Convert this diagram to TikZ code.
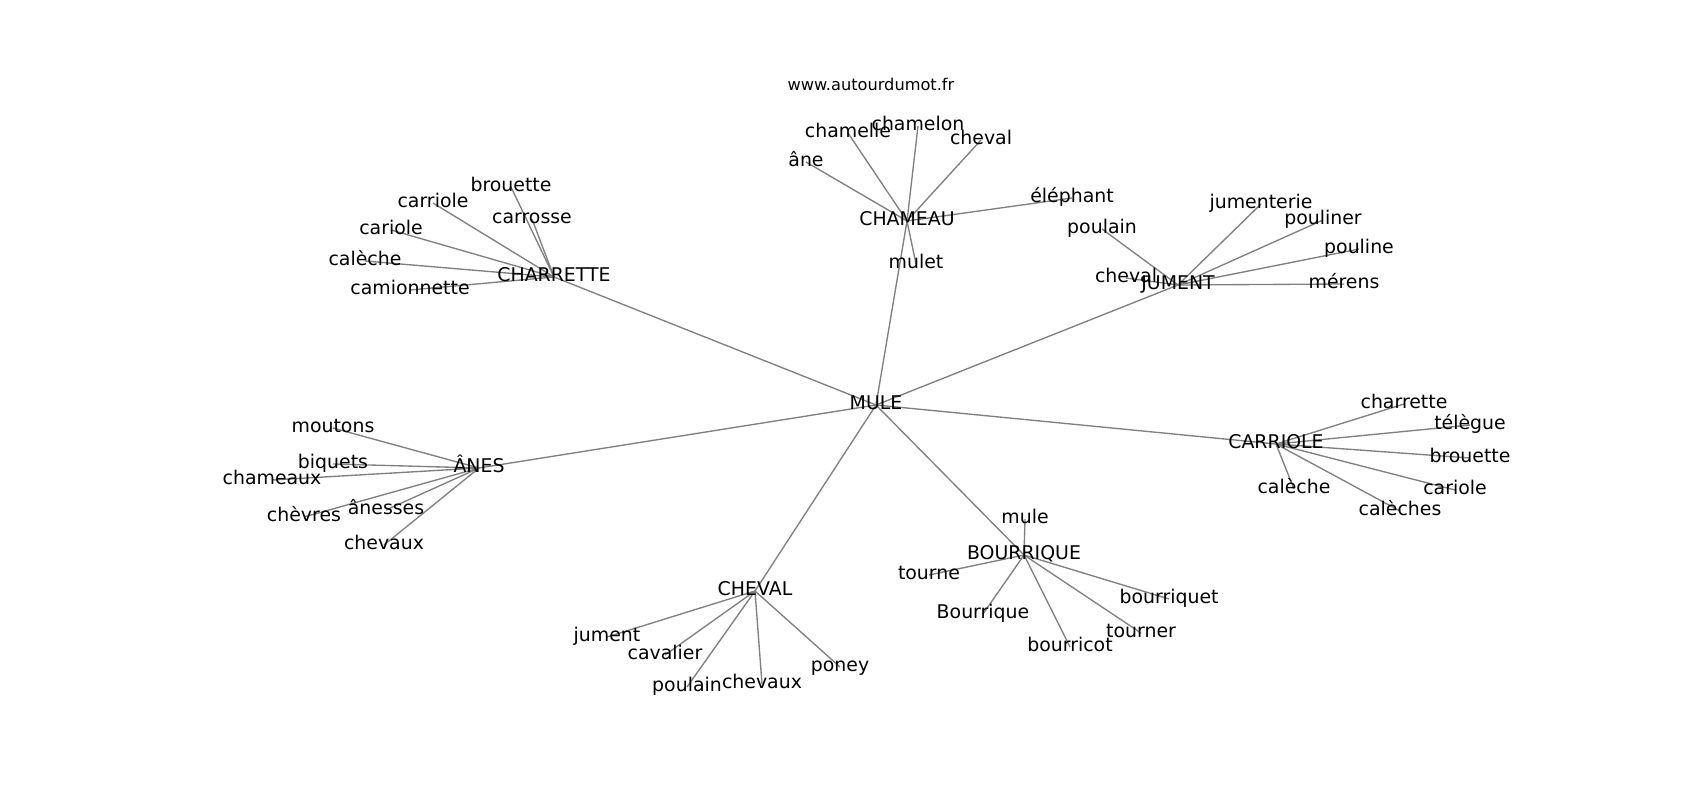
\documentclass[tikz,border=0pt]{standalone}
\usepackage{fontspec}
\setmainfont{DejaVu Sans}
\usetikzlibrary{backgrounds}
\begin{document}
\begin{tikzpicture}[x=1pt,y=-1pt,
  lbl/.style={inner sep=0pt,outer sep=0pt,text height=14.4pt,text depth=4.46pt,
    font=\fontsize{18.9}{22}\selectfont,text=black},
  ttl/.style={inner sep=0pt,font=\fontsize{16.2}{19}\selectfont,text=black},
  edge/.style={draw=gray,line width=1.35pt}]
\useasboundingbox (0,0) rectangle (1700,800);
\begin{scope}[shift={(0,2)}]
\node[ttl] (url) at (871,82) {www.autourdumot.fr};
% hubs
\node[lbl] (mule) at (876,403) {MULE};
\node[lbl] (charrette) at (554,275) {CHARRETTE};
\node[lbl] (chameau) at (907,219) {CHAMEAU};
\node[lbl] (jument) at (1178,283) {JUMENT};
\node[lbl] (carriole) at (1276,442) {CARRIOLE};
\node[lbl] (anes) at (479,466) {ÂNES};
\node[lbl] (cheval) at (755,589) {CHEVAL};
\node[lbl] (bourrique) at (1024,553) {BOURRIQUE};
% CHARRETTE leaves
\node[lbl] (ch-brouette) at (511,185) {brouette};
\node[lbl] (ch-carrosse) at (532,217) {carrosse};
\node[lbl] (ch-carriole) at (433,201) {carriole};
\node[lbl] (ch-cariole) at (391,228) {cariole};
\node[lbl] (ch-caleche) at (365,259) {calèche};
\node[lbl] (ch-camion) at (410,288) {camionnette};
% CHAMEAU leaves
\node[lbl] (cm-ane) at (806,160) {âne};
\node[lbl] (cm-chamelle) at (848,131) {chamelle};
\node[lbl] (cm-chamelon) at (918,124) {chamelon};
\node[lbl] (cm-cheval) at (981,138) {cheval};
\node[lbl] (cm-elephant) at (1072,196) {éléphant};
\node[lbl] (cm-mulet) at (916,262) {mulet};
% JUMENT leaves
\node[lbl] (ju-jumenterie) at (1261,202) {jumenterie};
\node[lbl] (ju-pouliner) at (1323,218) {pouliner};
\node[lbl] (ju-pouline) at (1359,247) {pouline};
\node[lbl] (ju-merens) at (1344,282) {mérens};
\node[lbl] (ju-cheval) at (1126,276) {cheval};
\node[lbl] (ju-poulain) at (1102,227) {poulain};
% CARRIOLE leaves
\node[lbl] (ca-charrette) at (1404,402) {charrette};
\node[lbl] (ca-telegue) at (1470,423) {télègue};
\node[lbl] (ca-brouette) at (1470,456) {brouette};
\node[lbl] (ca-caleche) at (1294,487) {calèche};
\node[lbl] (ca-cariole) at (1455,488) {cariole};
\node[lbl] (ca-caleches) at (1400,509) {calèches};
% ANES leaves
\node[lbl] (an-moutons) at (333,426) {moutons};
\node[lbl] (an-biquets) at (333,462) {biquets};
\node[lbl] (an-chameaux) at (272,478) {chameaux};
\node[lbl] (an-chevres) at (304,515) {chèvres};
\node[lbl] (an-anesses) at (386,508) {ânesses};
\node[lbl] (an-chevaux) at (384,543) {chevaux};
% CHEVAL leaves
\node[lbl] (cv-jument) at (607,635) {jument};
\node[lbl] (cv-cavalier) at (665,653) {cavalier};
\node[lbl] (cv-poulain) at (687,685) {poulain};
\node[lbl] (cv-chevaux) at (762,682) {chevaux};
\node[lbl] (cv-poney) at (840,665) {poney};
% BOURRIQUE leaves
\node[lbl] (bo-mule) at (1025,517) {mule};
\node[lbl] (bo-tourne) at (929,573) {tourne};
\node[lbl] (bo-Bourrique) at (983,612) {Bourrique};
\node[lbl] (bo-bourriquet) at (1169,597) {bourriquet};
\node[lbl] (bo-tourner) at (1141,631) {tourner};
\node[lbl] (bo-bourricot) at (1070,645) {bourricot};
\end{scope}
\begin{scope}[on background layer]
\fill[white] (0,0) rectangle (1700,800);
\foreach \h in {charrette,chameau,jument,carriole,anes,cheval,bourrique}
  \draw[edge] (mule.center) -- (\h.center);
\foreach \l in {ch-brouette,ch-carrosse,ch-carriole,ch-cariole,ch-caleche,ch-camion}
  \draw[edge] (charrette.center) -- (\l.center);
\foreach \l in {cm-ane,cm-chamelle,cm-chamelon,cm-cheval,cm-elephant,cm-mulet}
  \draw[edge] (chameau.center) -- (\l.center);
\foreach \l in {ju-jumenterie,ju-pouliner,ju-pouline,ju-merens,ju-cheval,ju-poulain}
  \draw[edge] (jument.center) -- (\l.center);
\foreach \l in {ca-charrette,ca-telegue,ca-brouette,ca-caleche,ca-cariole,ca-caleches}
  \draw[edge] (carriole.center) -- (\l.center);
\foreach \l in {an-moutons,an-biquets,an-chameaux,an-chevres,an-anesses,an-chevaux}
  \draw[edge] (anes.center) -- (\l.center);
\foreach \l in {cv-jument,cv-cavalier,cv-poulain,cv-chevaux,cv-poney}
  \draw[edge] (cheval.center) -- (\l.center);
\foreach \l in {bo-mule,bo-tourne,bo-Bourrique,bo-bourriquet,bo-tourner,bo-bourricot}
  \draw[edge] (bourrique.center) -- (\l.center);
\end{scope}
\end{tikzpicture}
\end{document}
